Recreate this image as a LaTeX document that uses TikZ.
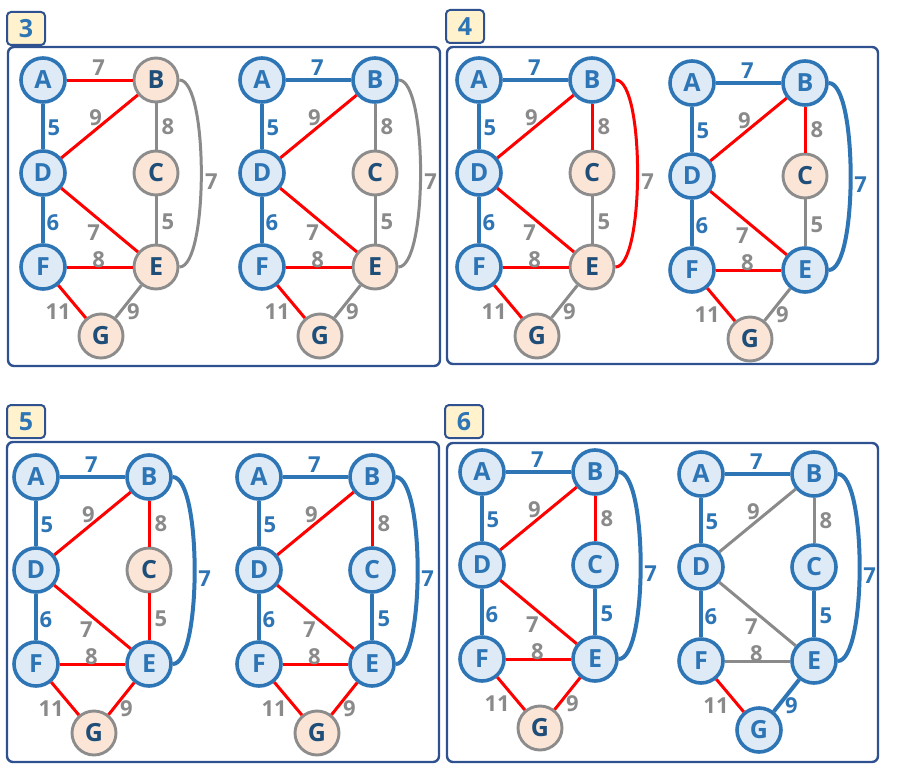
\documentclass[tikz,border=0pt]{standalone}
\usepackage{fontspec}
\setmainfont{Open Sans}

\definecolor{tblue}{HTML}{2E75B6}
\definecolor{tfill}{HTML}{DEEBF7}
\definecolor{pfill}{HTML}{FBE5D6}
\definecolor{ngray}{HTML}{8C8C8C}
\definecolor{lgray}{HTML}{8A8A8A}
\definecolor{navy}{HTML}{1F4E79}
\definecolor{cred}{HTML}{FF0000}
\definecolor{frame}{HTML}{2F5190}
\definecolor{tabfill}{HTML}{FFF2CC}

\tikzset{
  tnode/.style={circle, minimum size=44pt, inner sep=0pt, line width=3.6pt,
    draw=tblue, fill=tfill, text=tblue, font=\bfseries\fontsize{25}{25}\selectfont},
  onode/.style={tnode, line width=2.9pt, draw=ngray, fill=pfill, text=navy},
  tedge/.style={draw=tblue, line width=4pt, text=tblue},
  cedge/.style={draw=cred, line width=3pt, text=lgray},
  gedge/.style={draw=lgray, line width=3pt, text=lgray},
  wlbl/.style={inner sep=0pt, font=\bfseries\fontsize{22}{22}\selectfont},
  panel/.style={draw=frame, line width=2.4pt, rounded corners=6pt},
  tabbox/.style={draw=frame, line width=2pt, fill=tabfill, rounded corners=4pt,
    minimum width=38pt, minimum height=33pt, inner sep=0pt, text=tblue,
    font=\bfseries\fontsize{25}{25}\selectfont},
  % default states, changed per graph
  nA/.style=tnode, nB/.style=tnode, nC/.style=tnode, nD/.style=tnode,
  nE/.style=tnode, nF/.style=tnode, nG/.style=tnode,
  eAB/.style=cedge, eAD/.style=cedge, eBD/.style=cedge, eBC/.style=cedge,
  eDE/.style=cedge, eCE/.style=cedge, eDF/.style=cedge, eFE/.style=cedge,
  eFG/.style=cedge, eEG/.style=cedge, eBE/.style=cedge
}

% one graph: #1 prefix, #2 position of A, #3 states
\newcommand{\mstgraph}[3]{%
  \begin{scope}[shift={#2}, #3]
    % vertices
    \node[nA] (#1A) at (0,0) {A};
    \node[nB] (#1B) at (113,0) {B};
    \node[nC] (#1C) at (113,93) {C};
    \node[nD] (#1D) at (0,93) {D};
    \node[nE] (#1E) at (113,187) {E};
    \node[nF] (#1F) at (0,187) {F};
    \node[nG] (#1G) at (58,256) {G};
    % weighted edges
    \draw[eAB] (#1A) -- node[wlbl, shift={(-1,-12)}] {7} (#1B);
    \draw[eAD] (#1A) -- node[wlbl, shift={(11,1)}] {5} (#1D);
    \draw[eBD] (#1B) -- node[wlbl, shift={(-4,-9)}] {9} (#1D);
    \draw[eBC] (#1B) -- node[wlbl, shift={(12,0)}] {8} (#1C);
    \draw[eDE] (#1D) -- node[wlbl, shift={(-6,13)}] {7} (#1E);
    \draw[eCE] (#1C) -- node[wlbl, shift={(12,2)}] {5} (#1E);
    \draw[eDF] (#1D) -- node[wlbl, shift={(10,3)}] {6} (#1F);
    \draw[eFE] (#1F) -- node[wlbl, shift={(-1,-7)}] {8} (#1E);
    \draw[eFG] (#1F) -- node[wlbl, shift={(-14,10)}] {11} (#1G);
    \draw[eEG] (#1E) -- node[wlbl, shift={(5,10)}] {9} (#1G);
    \draw[eBE] (#1B) to[out=0, in=0, looseness=0.4] node[wlbl, shift={(10,8)}] {7} (#1E);
  \end{scope}
}

\begin{document}
\begin{tikzpicture}[x=1pt, y=-1pt]
    \useasboundingbox (0,0) rectangle (923,776);

    % Panels
    \draw[panel] (8,47) rectangle (440,366);
    \draw[panel] (447,47) rectangle (878,364);
    \draw[panel] (7,442) rectangle (439,762);
    \draw[panel] (447,443) rectangle (878,762);
    \node[tabbox] (tab3) at (26,28.5) {3};
    \node[tabbox] (tab4) at (465,26.5) {4};
    \node[tabbox] (tab5) at (26,421.5) {5};
    \node[tabbox] (tab6) at (464,421.5) {6};

    % Step 3
    \mstgraph{a}{(43,80)}{nB/.style=onode, nC/.style=onode, nE/.style=onode, nG/.style=onode,
      eAD/.style=tedge, eDF/.style=tedge,
      eBC/.style=gedge, eCE/.style=gedge, eEG/.style=gedge, eBE/.style=gedge}
    \mstgraph{b}{(262,80)}{nC/.style=onode, nE/.style=onode, nG/.style=onode,
      eAB/.style=tedge, eAD/.style=tedge, eDF/.style=tedge,
      eBC/.style=gedge, eCE/.style=gedge, eEG/.style=gedge, eBE/.style=gedge}

    % Step 4
    \mstgraph{c}{(479,80)}{nC/.style=onode, nE/.style=onode, nG/.style=onode,
      eAB/.style=tedge, eAD/.style=tedge, eDF/.style=tedge,
      eCE/.style=gedge, eEG/.style=gedge}
    \mstgraph{d}{(692,83)}{nC/.style=onode, nG/.style=onode,
      eAB/.style=tedge, eAD/.style=tedge, eDF/.style=tedge, eBE/.style=tedge,
      eCE/.style=gedge, eEG/.style=gedge}

    % Step 5
    \mstgraph{e}{(36,477)}{nC/.style=onode, nG/.style=onode,
      eAB/.style=tedge, eAD/.style=tedge, eDF/.style=tedge, eBE/.style=tedge}
    \mstgraph{f}{(259,477)}{nG/.style=onode,
      eAB/.style=tedge, eAD/.style=tedge, eDF/.style=tedge, eBE/.style=tedge, eCE/.style=tedge}

    % Step 6
    \mstgraph{g}{(482,472)}{nG/.style=onode,
      eAB/.style=tedge, eAD/.style=tedge, eDF/.style=tedge, eBE/.style=tedge, eCE/.style=tedge}
    \mstgraph{h}{(701,474)}{eAB/.style=tedge, eAD/.style=tedge, eDF/.style=tedge,
      eBE/.style=tedge, eCE/.style=tedge, eEG/.style=tedge,
      eBD/.style=gedge, eBC/.style=gedge, eDE/.style=gedge, eFE/.style=gedge}

\end{tikzpicture}
\end{document}
